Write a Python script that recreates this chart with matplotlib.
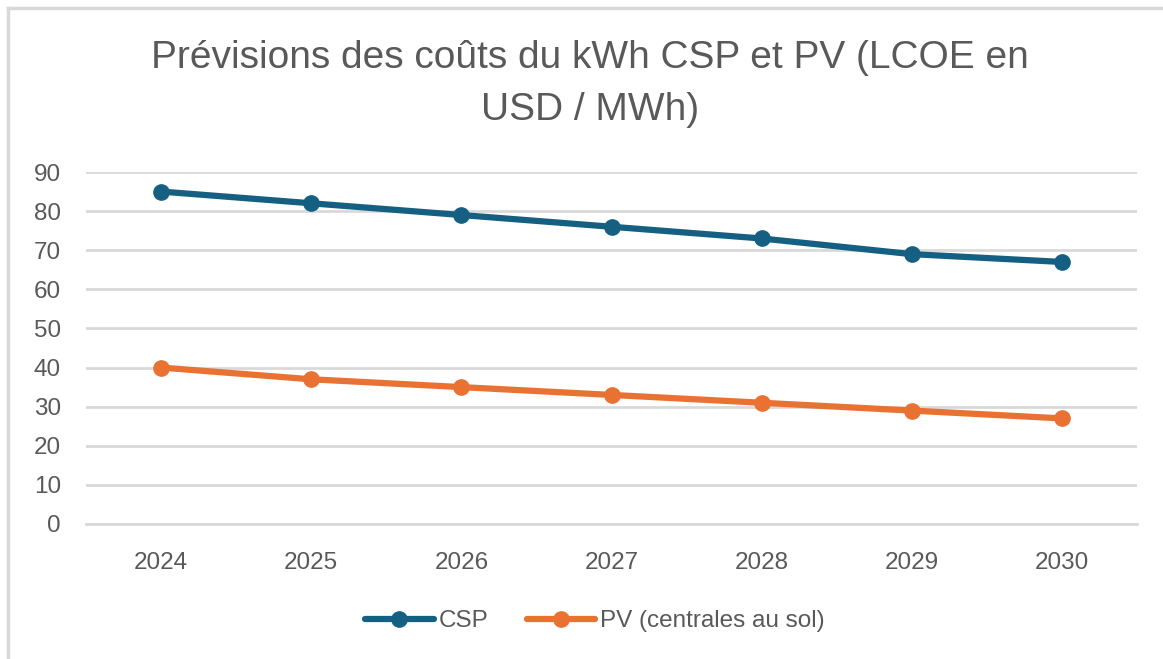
import matplotlib.pyplot as plt
from matplotlib.lines import Line2D

years = ['2024', '2025', '2026', '2027', '2028', '2029', '2030']
csp = [85, 82, 79, 76, 73, 69, 67]
pv = [40, 37, 35, 33, 31, 29, 27]
yticks = [0, 10, 20, 30, 40, 50, 60, 70, 80, 90]

text_col = '#595959'
grid_col = '#D9D9D9'
csp_col = '#156082'
pv_col = '#E97132'

plt.rcParams['font.family'] = ['Liberation Sans', 'DejaVu Sans']

fig = plt.figure(figsize=(11.63, 6.59), dpi=100)
ax = fig.add_axes([86/1163, 1 - 524/659, (1137 - 86)/1163, (524 - 172)/659])

x = range(len(years))
ax.plot(x, csp, color=csp_col, lw=4.5, marker='o', ms=11, label='CSP',
        solid_capstyle='round', zorder=3)
ax.plot(x, pv, color=pv_col, lw=4.5, marker='o', ms=11, label='PV (centrales au sol)',
        solid_capstyle='round', zorder=3)

ax.set_xlim(-0.5, len(years) - 0.5)
ax.set_ylim(0, 90)
ax.set_yticks(yticks)
ax.set_xticks(list(x))
ax.set_xticklabels(years)
ax.yaxis.grid(True, color=grid_col, lw=2)
ax.set_axisbelow(True)
for s in ['top', 'right', 'left']:
    ax.spines[s].set_visible(False)
ax.spines['bottom'].set_color(grid_col)
ax.spines['bottom'].set_linewidth(2)
ax.tick_params(length=0, labelsize=17.5, colors=text_col)
ax.tick_params(axis='x', pad=20)
ax.tick_params(axis='y', pad=18)

fig.text(590/1163, 1 - 84/659, 'Prévisions des coûts du kWh CSP et PV (LCOE en\nUSD / MWh)',
         ha='center', va='center', fontsize=28, color=text_col, linespacing=1.55)

leg = fig.legend(loc='center', bbox_to_anchor=(595/1163, 1 - 621/659), ncol=2,
                 frameon=False, fontsize=17.5, handlelength=2.8, columnspacing=1.6,
                 handletextpad=0.2)
for t in leg.get_texts():
    t.set_color(text_col)

# chart border (top and left only visible)
fig.add_artist(Line2D([8/1163, 1], [1 - 8/659, 1 - 8/659], color=grid_col, lw=2.5))
fig.add_artist(Line2D([8/1163, 8/1163], [0, 1 - 8/659], color=grid_col, lw=2.5))

fig.savefig('out.png', dpi=100, facecolor='white')
